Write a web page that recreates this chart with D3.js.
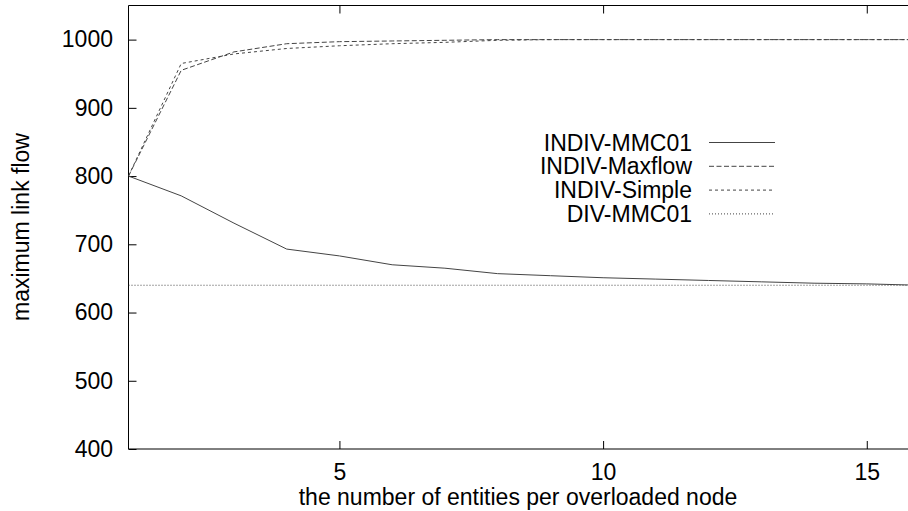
<!DOCTYPE html>
<html><head><meta charset="utf-8">
<script src="https://cdn.jsdelivr.net/npm/d3@7"></script>
<style>body{margin:0;background:#fff}svg{display:block}text{font-family:"Liberation Sans",Arial,sans-serif}</style>
</head><body>
<svg id="c" width="908" height="511"></svg>
<script>
const xVals = [1,2,3,4,5,6,7,8,9,10,11,12,13,14,15,16];
const indivMMC01 = [800,771,731,693,683,670,665,657,654,651,649,647,645,643,642,640];
const indivMaxflow = [800,955,982,994,997,998,999,1000,1000,1000,1000,1000,1000,1000,1000,1000];
const indivSimple = [800,965,979,987,991,994,996,999,1000,1000,1000,1000,1000,1000,1000,1000];
const divMMC01 = [640,640,640,640,640,640,640,640,640,640,640,640,640,640,640,640];
const seriesNames = ["INDIV-MMC01","INDIV-Maxflow","INDIV-Simple","DIV-MMC01"];
const yTicks = [400,500,600,700,800,900,1000];
const xTicks = [5,10,15];

const series = [
  {name: seriesNames[0], values: indivMMC01, dash: null},
  {name: seriesNames[1], values: indivMaxflow, dash: "5,2.5"},
  {name: seriesNames[2], values: indivSimple, dash: "3,3"},
  {name: seriesNames[3], values: divMMC01, dash: "1,2"}
];

const FS = 23;
const svg = d3.select("#c");
const L = 128.5, T = 5.5, B = 449;
const x = d3.scaleLinear().domain([1,16]).range([L, 919.5]);
const y = d3.scaleLinear().domain([400,1050]).range([B, T]);

// plot frame
const g = svg.append("g");
g.append("line").attr("x1",L).attr("x2",920).attr("y1",T).attr("y2",T).attr("stroke","#000");
g.append("line").attr("x1",L).attr("x2",920).attr("y1",B).attr("y2",B).attr("stroke","#000");
g.append("line").attr("x1",L).attr("x2",L).attr("y1",T).attr("y2",B).attr("stroke","#000");

// y axis
const yAxis = d3.axisLeft(y).tickValues(yTicks).tickSize(-8).tickPadding(15.5).tickFormat(d3.format("d"));
const ya = svg.append("g").attr("transform",`translate(${L},0)`).call(yAxis);
ya.select(".domain").remove();
ya.selectAll("text").attr("font-size",FS).attr("fill","#000").style("font-family","'Liberation Sans',Arial,sans-serif");
ya.selectAll("line").attr("stroke","#000");

// x axis bottom
const xAxis = d3.axisBottom(x).tickValues(xTicks).tickSize(-8).tickPadding(14.5);
const xa = svg.append("g").attr("transform",`translate(0,${B})`).call(xAxis);
xa.select(".domain").remove();
xa.selectAll("text").attr("font-size",FS).attr("fill","#000").style("font-family","'Liberation Sans',Arial,sans-serif");
xa.selectAll("line").attr("stroke","#000");
// mirror ticks top
const xt = svg.append("g").attr("transform",`translate(0,${T})`).call(d3.axisTop(x).tickValues(xTicks).tickSize(-8).tickFormat(""));
xt.select(".domain").remove();
xt.selectAll("line").attr("stroke","#000");

// clip
svg.append("clipPath").attr("id","clip").append("rect").attr("x",L).attr("y",T).attr("width",800).attr("height",B-T);

const line = d3.line().x((d,i)=>x(xVals[i])).y(d=>y(d));
svg.append("g").attr("clip-path","url(#clip)").selectAll("path").data(series).join("path")
  .attr("d", d=>line(d.values))
  .attr("fill","none").attr("stroke","#444").attr("stroke-width",1)
  .attr("stroke-dasharray", d=>d.dash);

// legend
const lg = svg.append("g");
series.forEach((s,i)=>{
  const yy = 142.5 + i*23.8;
  lg.append("text").attr("x",692).attr("y",yy).attr("dy","0.35em").attr("text-anchor","end")
    .attr("font-size",FS).text(s.name);
  lg.append("line").attr("x1",709).attr("x2",775).attr("y1",yy).attr("y2",yy)
    .attr("stroke","#444").attr("stroke-dasharray",s.dash);
});

// axis titles
svg.append("text").attr("x",518).attr("y",505).attr("text-anchor","middle").attr("font-size",FS).text("the number of entities per overloaded node");
svg.append("text").attr("transform","translate(29,227) rotate(-90)").attr("text-anchor","middle").attr("font-size",FS).text("maximum link flow");
</script>
</body></html>
